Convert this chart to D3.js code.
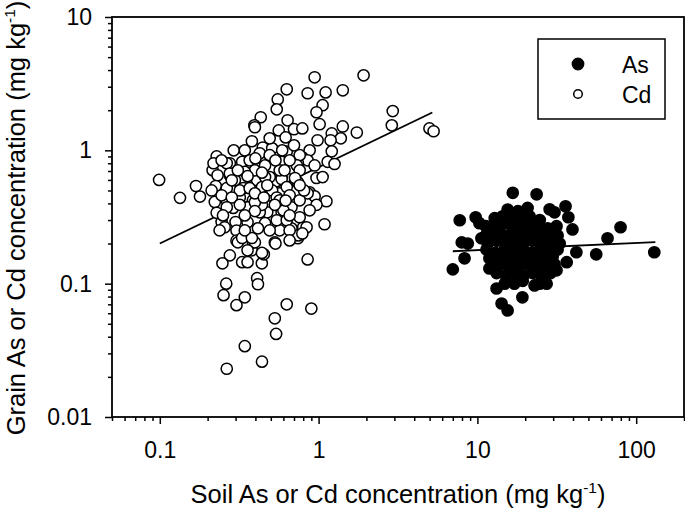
<!DOCTYPE html>
<html><head><meta charset="utf-8">
<script src="https://cdn.jsdelivr.net/npm/d3@7"></script>
<style>body{margin:0;background:#fff} svg{display:block} text{font-family:"Liberation Sans",Arial,sans-serif;fill:#000}</style>
</head><body><svg id="c" width="685" height="510"></svg>
<script>
const xMajor=[0.1,1,10,100];
const yMajor=[0.01,0.1,1,10];
const xTickLabels=["0.1","1","10","100"];
const yTickLabels=["0.01","0.1","1","10"];
const seriesNames=["As","Cd"];

const cdSoil=[0.099,0.134,0.169,0.179,0.215,0.228,0.231,0.225,0.222,0.228,0.245,0.256,0.276,0.292,0.276,0.28,0.264,0.29,0.30,0.304,0.304,0.276,0.248,0.262,0.252,0.304,0.343,0.33,0.357,0.439,0.452,0.379,0.41,0.415,0.31,0.386,0.53,0.74,0.853,0.63,0.90,0.53,0.54,0.343,0.44,0.264,
1.92,0.944,0.63,1.107,1.42,0.853,0.553,0.545,1.06,0.97,2.93,2.89,0.432,0.394,0.638,0.561,0.70,0.79,1.015,1.42,1.74,1.21,1.38,1.19,0.38,4.99,5.3,
0.445,0.51,0.63,0.878,0.79,0.853,0.74,0.44,0.51,0.585,0.675,0.585,0.74,0.97,1.06,0.878,0.944,1.12,0.97,0.426,0.492,0.569,0.675,0.475,0.585,0.426,0.46,0.569,0.675,0.80,0.745,1.09,1.21,1.14,1.26,
0.426,0.76,0.33,0.73,0.33,0.41,0.492,0.585,0.336,0.44,0.51,0.63,0.319,0.386,0.545,0.853,0.36,0.44,0.60,0.357,0.545,0.63,0.76,0.84,0.657,0.79,0.535,0.397,0.357,0.44,0.397,
0.218,0.264,0.276,0.264,0.319,0.368,0.245,0.284,0.397,0.264,0.397,0.33,0.38,0.368,0.46,0.397,0.569,0.657,0.343,0.46,0.657,0.397,0.297,0.492,0.76,0.76,0.569,0.343,0.492,0.657,0.878,
0.245,0.31,0.357,0.44,0.535,0.475,0.61,0.71,0.81,0.657,0.53,0.415,0.343,0.25,0.319,0.284,0.40,0.59,0.70,0.343,0.944,0.985,0.492,0.62,0.452,0.62,0.76,0.238,0.212];
const cdGrain=[0.60,0.44,0.54,0.45,0.71,0.90,0.65,0.54,0.41,0.34,0.29,0.265,0.80,1.0,0.65,0.52,0.42,0.37,0.29,0.25,0.21,0.163,0.142,0.10,0.082,0.069,0.079,0.145,0.145,0.142,0.166,0.178,0.11,0.099,0.204,0.204,0.204,0.219,0.152,0.070,0.065,0.055,0.042,0.034,0.026,0.023,
3.65,3.53,2.87,2.72,2.82,2.68,2.41,2.03,2.18,1.93,1.97,1.54,1.77,1.54,1.68,1.41,1.44,1.46,1.57,1.51,1.36,1.34,1.23,1.19,1.17,1.46,1.39,
1.05,1.035,0.98,1.0,0.886,0.841,0.80,0.87,0.746,0.82,0.73,0.62,0.576,0.62,0.63,0.484,0.452,0.415,0.39,0.547,0.46,0.476,0.374,0.343,0.343,0.343,0.284,0.251,0.26,0.265,0.23,0.279,0.983,0.82,0.79,
0.95,0.92,0.82,0.77,0.596,0.596,0.63,0.61,0.52,0.53,0.50,0.53,0.443,0.422,0.443,0.476,0.374,0.39,0.355,0.289,0.299,0.299,0.315,0.265,0.251,0.238,0.20,0.204,0.178,0.17,1.49,
0.80,0.80,0.67,0.52,0.50,0.52,0.46,0.443,0.408,0.374,0.35,0.22,0.22,0.841,0.77,0.708,0.708,0.841,0.69,0.63,0.46,0.476,0.596,0.92,0.708,0.422,0.422,0.325,0.251,0.211,0.355,
0.841,0.708,0.64,0.68,0.841,0.547,0.708,0.62,0.50,0.325,0.39,0.26,0.251,0.325,0.39,0.596,0.87,1.0,1.09,1.0,0.77,1.19,1.23,1.25,0.443,0.42,0.547,0.251,0.50];

const asSoil=[16.7,23.6,28.5,30.6,35.9,37.4,39.7,7.74,9.75,10.3,7.97,8.7,8.3,7.0,66,79.7,56,130,42,36.5,13.2,14.2,15.5,19.2,17.1,22.9,27.3,31.5,16.0,19.3,13.8,10.6,11.9,
15.5,18.0,20.7, 12.85,14.4,16.45,18.7,21.3,24.7, 11.3,12.7,14.4,16.45,18.7,21.3,24.3,27.7,31.5, 11.3,12.85,14.6,16.7,19.0,21.6,24.7,28.1,32.0, 11.6,13.2,15.1,17.2,19.5,22.3,25.4,28.9,33.0, 11.4,13.0,14.85,16.9,19.3,21.9,25.0,28.5,32.0, 11.9,13.6,15.5,17.7,20.1,22.9,26.1,29.8, 12.3,14.0,16.0,18.2,20.7,23.6,26.9,30.6, 13.2,15.1,17.2,19.5,22.3,25.4,28.9, 14.85,19.3,24.7];
const asGrain=[0.48,0.468,0.361,0.343,0.38,0.315,0.255,0.299,0.315,0.284,0.204,0.20,0.155,0.128,0.219,0.265,0.166,0.172,0.172,0.145,0.092,0.071,0.063,0.079,0.10,0.097,0.10,0.126,0.343,0.343,0.29,0.219,0.13,
0.36,0.35,0.37, 0.31,0.32,0.30,0.31,0.32,0.30, 0.27,0.26,0.28,0.27,0.26,0.28,0.27,0.26,0.27, 0.23,0.24,0.23,0.24,0.23,0.24,0.23,0.24,0.23, 0.20,0.21,0.20,0.21,0.20,0.21,0.20,0.21,0.20, 0.18,0.17,0.18,0.175,0.18,0.17,0.18,0.175,0.18, 0.155,0.16,0.15,0.155,0.16,0.15,0.155,0.16, 0.135,0.14,0.13,0.135,0.14,0.13,0.135,0.14, 0.12,0.115,0.12,0.115,0.12,0.115,0.12, 0.10,0.105,0.10];

const cdFitSoil=[0.1,5.2], cdFitGrain=[0.2,1.92];
const asFitSoil=[7.0,132], asFitGrain=[0.175,0.205];

const svg=d3.select("#c");
const L=112,R=684,T=17,B=417;
const x=d3.scaleLog().domain([0.05,200]).range([L,R]);
const y=d3.scaleLog().domain([0.01,10]).range([B,T]);

const isMajor=v=>[...xMajor,...yMajor].some(m=>Math.abs(v/m-1)<1e-6);
const xMinor=x.ticks().filter(v=>!isMajor(v));
const yMinor=y.ticks().filter(v=>!isMajor(v));

const gx=svg.append("g").attr("transform",`translate(0,${B})`);
gx.call(d3.axisBottom(x).tickValues(xMinor).tickSize(4).tickFormat(""));
gx.select(".domain").remove();
const gx2=svg.append("g").attr("transform",`translate(0,${B})`);
gx2.call(d3.axisBottom(x).tickValues(xMajor).tickSize(7).tickPadding(18).tickFormat((d,i)=>xTickLabels[i]));
gx2.select(".domain").remove();
gx2.selectAll("text").attr("font-size",23).attr("font-family","Liberation Sans, Arial, sans-serif");

const gy=svg.append("g").attr("transform",`translate(${L},0)`);
gy.call(d3.axisLeft(y).tickValues(yMinor).tickSize(4).tickFormat(""));
gy.select(".domain").remove();
const gy2=svg.append("g").attr("transform",`translate(${L},0)`);
gy2.call(d3.axisLeft(y).tickValues(yMajor).tickSize(7).tickPadding(13).tickFormat((d,i)=>yTickLabels[i]));
gy2.select(".domain").remove();
gy2.selectAll("text").attr("font-size",23).attr("font-family","Liberation Sans, Arial, sans-serif");
svg.selectAll(".tick line").attr("stroke","#000").attr("stroke-width",1.5);

svg.append("rect").attr("x",L).attr("y",T).attr("width",R-L).attr("height",B-T)
  .attr("fill","none").attr("stroke","#000").attr("stroke-width",1.8);

const line=d3.line().x(d=>x(d[0])).y(d=>y(d[1]));
svg.append("path").attr("d",line(d3.zip(cdFitSoil,cdFitGrain))).attr("stroke","#000").attr("stroke-width",1.8).attr("fill","none");
svg.append("path").attr("d",line(d3.zip(asFitSoil,asFitGrain))).attr("stroke","#000").attr("stroke-width",1.8).attr("fill","none");

svg.append("g").selectAll("circle").data(d3.zip(cdSoil,cdGrain)).join("circle")
  .attr("cx",d=>x(d[0])).attr("cy",d=>y(d[1])).attr("r",5.6)
  .attr("fill","#fff").attr("stroke","#000").attr("stroke-width",1.5);
svg.append("g").selectAll("circle").data(d3.zip(asSoil,asGrain)).join("circle")
  .attr("cx",d=>x(d[0])).attr("cy",d=>y(d[1])).attr("r",5.6)
  .attr("fill","#000").attr("stroke","#000").attr("stroke-width",1.5);

const lg=svg.append("g");
lg.append("rect").attr("x",538).attr("y",39).attr("width",127).attr("height",80)
  .attr("fill","#fff").attr("stroke","#000").attr("stroke-width",1.5);
lg.append("circle").attr("cx",578).attr("cy",64).attr("r",5.8).attr("fill","#000").attr("stroke","#000").attr("stroke-width",1.2);
lg.append("circle").attr("cx",578).attr("cy",94).attr("r",4.3).attr("fill","#fff").attr("stroke","#000").attr("stroke-width",1.5);
lg.append("text").attr("x",622).attr("y",73).attr("font-size",23).text(seriesNames[0]);
lg.append("text").attr("x",622).attr("y",103).attr("font-size",23).text(seriesNames[1]);

const xt=svg.append("text").attr("x",398).attr("y",503).attr("text-anchor","middle").attr("font-size",25.5);
xt.append("tspan").text("Soil As or Cd concentration (mg kg");
xt.append("tspan").attr("font-size",15.5).attr("dy",-10).text("-1");
xt.append("tspan").attr("dy",10).text(")");
const yt=svg.append("text").attr("transform","translate(25,218) rotate(-90)").attr("text-anchor","middle").attr("font-size",25.5);
yt.append("tspan").text("Grain As or Cd concentration (mg kg");
yt.append("tspan").attr("font-size",15.5).attr("dy",-10).text("-1");
yt.append("tspan").attr("dy",10).text(")");
</script></body></html>
